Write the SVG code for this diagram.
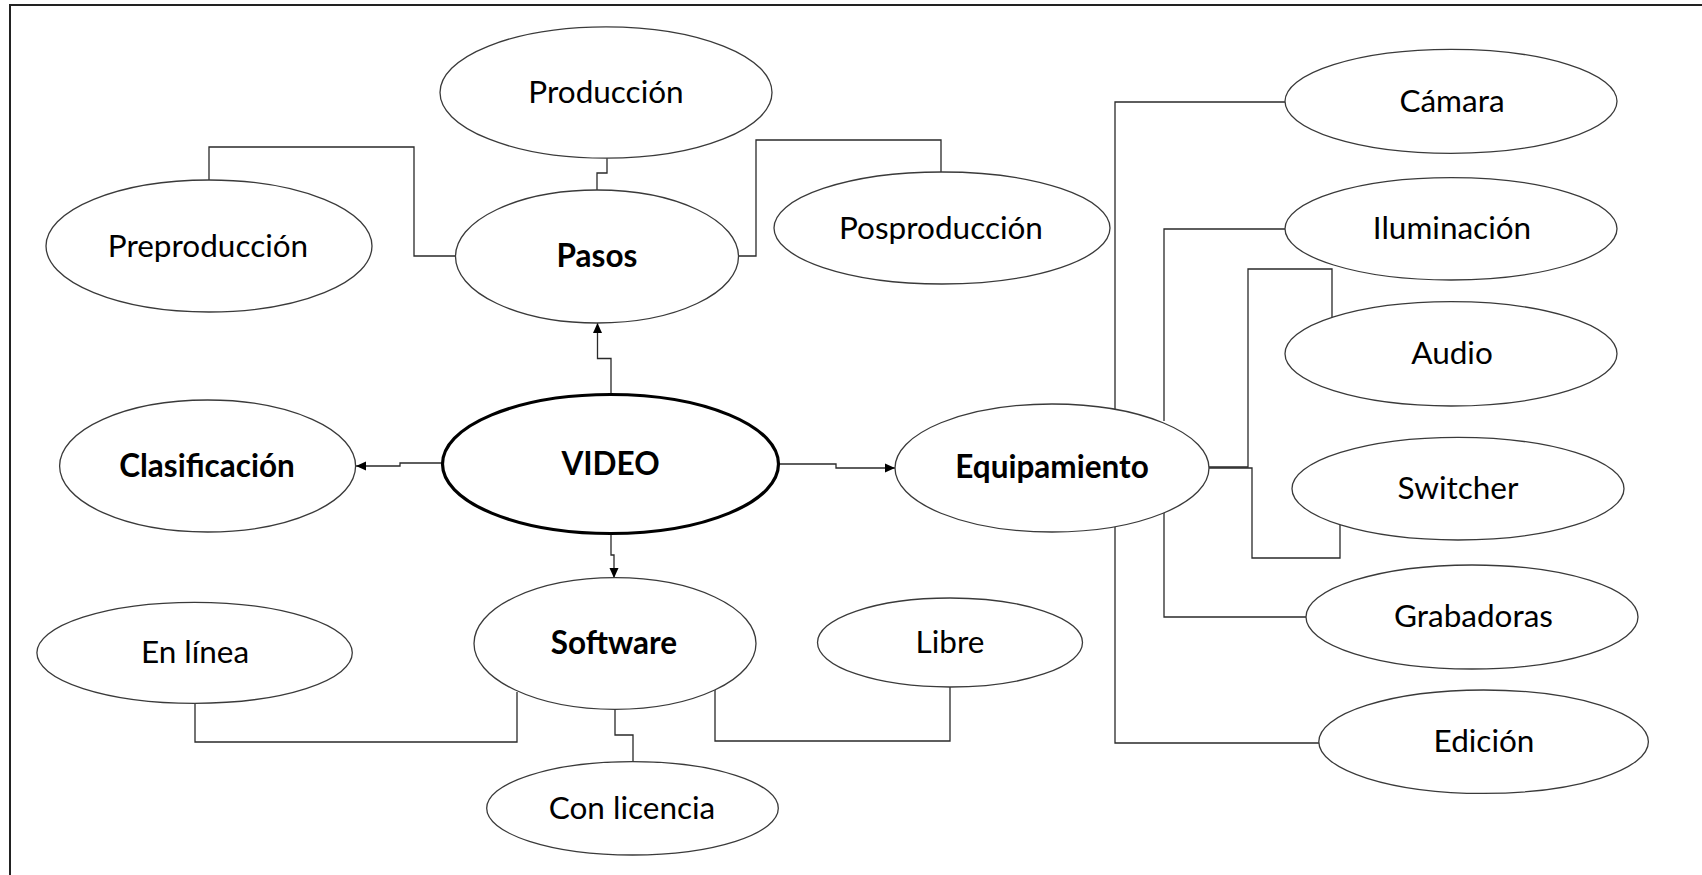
<svg xmlns="http://www.w3.org/2000/svg" width="1702" height="875" viewBox="0 0 1702 875">
<style>
.n{fill:#fff;stroke:#3a3a3a;stroke-width:1.3}
.v{fill:#fff;stroke:#000;stroke-width:3.2}
.t{font-family:Lato,"Open Sans","Liberation Sans",sans-serif;font-size:31.5px;fill:#000;text-anchor:middle}
.b{font-weight:bold}
.c{fill:none;stroke:#2a2a2a;stroke-width:1.3}
.frame{fill:none;stroke:#222;stroke-width:2}
</style>
<defs>
<marker id="ah" markerUnits="userSpaceOnUse" markerWidth="11" markerHeight="10" refX="10" refY="5" orient="auto">
<path d="M0,0.5 L10,5 L0,9.5 z" fill="#000"/>
</marker>
</defs>
<rect width="1702" height="875" fill="#fff"/>
<path class="frame" d="M10,875 V5 H1702"/>
<g id="connectors">
<path class="c" d="M209,180 V147 H414 V256 H455"/>
<path class="c" d="M607,158 V173 H597 V190"/>
<path class="c" d="M738,256 H756 V140 H941 V173"/>
<path class="c" d="M611,395 V358.5 H597.5 V323" marker-end="url(#ah)"/>
<path class="c" d="M442,463 H400 V466 H356" marker-end="url(#ah)"/>
<path class="c" d="M611,534 V555 H614 V578" marker-end="url(#ah)"/>
<path class="c" d="M779,464 H836 V468 H895" marker-end="url(#ah)"/>
<path class="c" d="M517,692 V742 H195 V703"/>
<path class="c" d="M615,709 V735 H633 V762"/>
<path class="c" d="M715,690 V741 H950 V687"/>
<path class="c" d="M1115,412 V102 H1285"/>
<path class="c" d="M1164,421 V229 H1285"/>
<path class="c" d="M1209,467 H1248 V269 H1332 V317"/>
<path class="c" d="M1209,468 H1252 V558 H1340 V525"/>
<path class="c" d="M1164,513 V617 H1306"/>
<path class="c" d="M1115,527 V743 H1319"/>
</g>
<g id="produccion"><ellipse class="n" cx="606" cy="92.5" rx="166" ry="65.7"/><text class="t" x="606" y="103">Producción</text></g>
<g id="preproduccion"><ellipse class="n" cx="209" cy="246" rx="163" ry="66"/><text class="t" x="208" y="256.5">Preproducción</text></g>
<g id="pasos"><ellipse class="n" cx="597" cy="256.5" rx="141.5" ry="66.5"/><text class="t b" x="597" y="266.5">Pasos</text></g>
<g id="posproduccion"><ellipse class="n" cx="942" cy="228" rx="168" ry="56"/><text class="t" x="941" y="238.5">Posproducción</text></g>
<g id="video"><ellipse class="v" cx="610.5" cy="464" rx="168" ry="69.5"/><text class="t b" x="610.5" y="474.5">VIDEO</text></g>
<g id="clasificacion"><ellipse class="n" cx="207.6" cy="466" rx="148" ry="66"/><text class="t b" x="207" y="476.5">Clasificación</text></g>
<g id="equipamiento"><ellipse class="n" cx="1052" cy="468" rx="157" ry="64"/><text class="t b" x="1052" y="478">Equipamiento</text></g>
<g id="software"><ellipse class="n" cx="615" cy="643.5" rx="141" ry="65.8"/><text class="t b" x="614" y="654">Software</text></g>
<g id="enlinea"><ellipse class="n" cx="194.6" cy="652.8" rx="157.7" ry="50.5"/><text class="t" x="195" y="663">En línea</text></g>
<g id="conlicencia"><ellipse class="n" cx="632.5" cy="808.3" rx="145.8" ry="46.7"/><text class="t" x="632" y="818.5">Con licencia</text></g>
<g id="libre"><ellipse class="n" cx="950" cy="642.5" rx="132.5" ry="44.5"/><text class="t" x="950" y="653">Libre</text></g>
<g id="camara"><ellipse class="n" cx="1451" cy="101.3" rx="166" ry="52"/><text class="t" x="1452" y="111.5">Cámara</text></g>
<g id="iluminacion"><ellipse class="n" cx="1451" cy="228.8" rx="166" ry="51.2"/><text class="t" x="1452" y="239">Iluminación</text></g>
<g id="audio"><ellipse class="n" cx="1451" cy="353.8" rx="166" ry="52.2"/><text class="t" x="1452" y="364">Audio</text></g>
<g id="switcher"><ellipse class="n" cx="1458" cy="488.7" rx="166" ry="51.3"/><text class="t" x="1458" y="499">Switcher</text></g>
<g id="grabadoras"><ellipse class="n" cx="1472" cy="617" rx="166" ry="52"/><text class="t" x="1473.5" y="627">Grabadoras</text></g>
<g id="edicion"><ellipse class="n" cx="1483.6" cy="741.7" rx="164.8" ry="51.7"/><text class="t" x="1484" y="752">Edición</text></g>
</svg>
